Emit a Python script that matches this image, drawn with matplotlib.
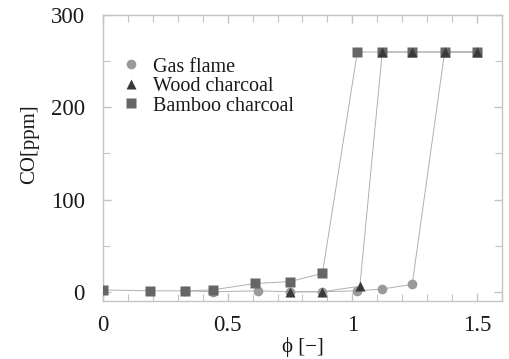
import matplotlib
matplotlib.use("Agg")
import matplotlib.pyplot as plt
from matplotlib.ticker import MultipleLocator

# Data
gas_phi = [0.33, 0.44, 0.62, 0.75, 0.88, 1.02, 1.12, 1.24, 1.37, 1.50]
gas_co = [1, 0, 1, 0, 0, 1, 3, 8, 260, 260]

wood_phi = [0.75, 0.88, 1.03, 1.12, 1.24, 1.37, 1.50]
wood_co = [0, 0, 6, 260, 260, 260, 260]

bamboo_phi = [0.0, 0.19, 0.33, 0.44, 0.61, 0.75, 0.88, 1.02, 1.12, 1.24, 1.37, 1.50]
bamboo_co = [2, 1, 1, 2, 9, 11, 20, 260, 260, 260, 260, 260]

LINE = "#b0b0b0"
SPINE = "#c4c4c4"
TXT = "#1a1a1a"

plt.rcParams["font.family"] = ["Liberation Serif", "DejaVu Serif"]

fig = plt.figure(figsize=(5.09, 3.59), dpi=100)
ax = fig.add_axes([0.2024, 0.1616, 0.7838, 0.7964])

# connecting lines
ax.plot(gas_phi, gas_co, "-", color=LINE, lw=0.7, zorder=2)
ax.plot(wood_phi, wood_co, "-", color=LINE, lw=0.7, zorder=2)
ax.plot(bamboo_phi, bamboo_co, "-", color=LINE, lw=0.7, zorder=2)

# markers
ax.plot(gas_phi, gas_co, "o", color="#9a9a9a", ms=7, mec="none",
        zorder=3, label="Gas flame")
ax.plot(bamboo_phi, bamboo_co, "s", color="#666666", ms=6.5, mec="none",
        zorder=4, label="Bamboo charcoal")
ax.plot(wood_phi, wood_co, "^", color="#3a3a3a", ms=7, mec="none",
        zorder=5, label="Wood charcoal")

ax.set_xlim(0, 1.6)
ax.set_ylim(-10, 300)
ax.xaxis.set_minor_locator(MultipleLocator(0.1))
ax.yaxis.set_major_locator(MultipleLocator(100))
ax.yaxis.set_minor_locator(MultipleLocator(50))
ax.set_xticks([0, 0.5, 1, 1.5])
ax.set_xticklabels(["0", "0.5", "1", "1.5"])

for s in ax.spines.values():
    s.set_color(SPINE)
    s.set_linewidth(1.0)
ax.tick_params(which="both", direction="in", top=True, right=True,
               color=SPINE, labelcolor=TXT, labelsize=16.5)
ax.tick_params(which="major", length=6, width=1.0)
ax.tick_params(which="minor", length=5, width=0.8)
ax.tick_params(axis="y", which="major", pad=13)
ax.tick_params(axis="x", which="major", pad=10)

ax.set_ylabel("CO[ppm]", fontsize=15, color=TXT)
ax.yaxis.set_label_coords(-0.16, 0.55)
ax.set_xlabel("\u03d5 [\u2212]", fontsize=15, color=TXT, labelpad=1)

handles, labels = ax.get_legend_handles_labels()
order = [0, 2, 1]
leg = ax.legend([handles[i] for i in order], [labels[i] for i in order],
                loc="upper left", bbox_to_anchor=(0.03, 0.88), frameon=False,
                fontsize=14.5, handlelength=0.8, handletextpad=0.7,
                labelspacing=0.02, borderaxespad=0)
for t in leg.get_texts():
    t.set_color(TXT)

fig.savefig("out.png", dpi=100, facecolor="white")
